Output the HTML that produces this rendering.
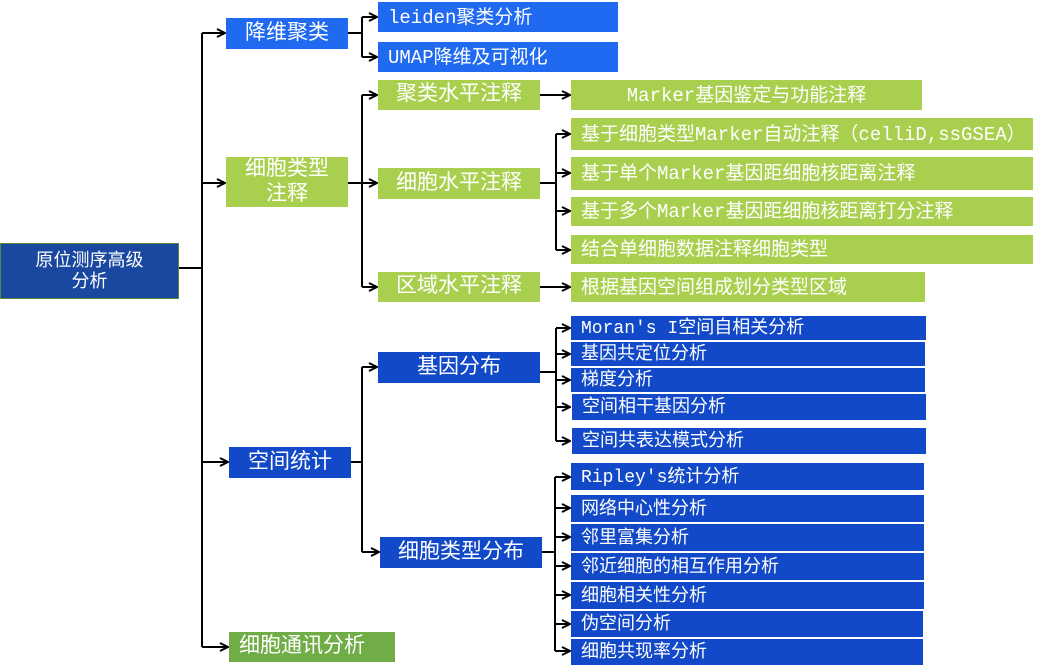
<!DOCTYPE html>
<html><head><meta charset="utf-8"><style>
body{margin:0;width:1039px;height:666px;background:#fff;position:relative;overflow:hidden;font-family:"Liberation Mono","Noto Sans CJK SC",monospace;}
.b{position:absolute;color:#fff;font-size:18px;box-sizing:border-box;display:flex;align-items:center;white-space:nowrap;line-height:1.15;padding-top:3px;font-family:"Liberation Mono","Noto Sans CJK SC",monospace;}
.c{justify-content:center;text-align:center}
.l{padding-left:10px}
.m{font-size:21px}
.r{font-size:19px}
.bb{background:#1f6af0}
.dk{background:#1249c8}
.g{background:#a8d04e}
.g2{background:#70ad47}
svg{position:absolute;left:0;top:0}
</style></head><body>
<svg width="1039" height="666">
<defs><marker id="a" markerWidth="10" markerHeight="10" refX="9" refY="5" orient="auto" markerUnits="userSpaceOnUse"><path d="M1,1 L9,5 L1,9" fill="none" stroke="#000" stroke-width="2"/></marker></defs>
<g stroke="#000" stroke-width="2" fill="none">
<path d="M179 268 H202 M202 33 V647"/>
<path d="M202 33 H225" marker-end="url(#a)"/>
<path d="M202 183 H225" marker-end="url(#a)"/>
<path d="M202 462 H228" marker-end="url(#a)"/>
<path d="M202 647 H228" marker-end="url(#a)"/>
<path d="M348 33 H362 M362 17 V57"/>
<path d="M362 17 H377" marker-end="url(#a)"/>
<path d="M362 57 H377" marker-end="url(#a)"/>
<path d="M348 183 H362 M362 95 V287"/>
<path d="M362 95 H377" marker-end="url(#a)"/>
<path d="M362 183 H377" marker-end="url(#a)"/>
<path d="M362 287 H377" marker-end="url(#a)"/>
<path d="M540 95 H570" marker-end="url(#a)"/>
<path d="M540 287 H570" marker-end="url(#a)"/>
<path d="M540 183 H556 M556 134 V250"/>
<path d="M556 134 H570" marker-end="url(#a)"/>
<path d="M556 173 H570" marker-end="url(#a)"/>
<path d="M556 211 H570" marker-end="url(#a)"/>
<path d="M556 250 H570" marker-end="url(#a)"/>
<path d="M351 462 H362 M362 367 V552"/>
<path d="M362 367 H377" marker-end="url(#a)"/>
<path d="M362 552 H379" marker-end="url(#a)"/>
<path d="M540 372 H556 M556 328 V441"/>
<path d="M556 328 H570" marker-end="url(#a)"/>
<path d="M556 354 H570" marker-end="url(#a)"/>
<path d="M556 380 H570" marker-end="url(#a)"/>
<path d="M556 407 H570" marker-end="url(#a)"/>
<path d="M556 441 H570" marker-end="url(#a)"/>
<path d="M542 552 H555 M555 477 V651"/>
<path d="M555 477 H570" marker-end="url(#a)"/>
<path d="M555 508 H570" marker-end="url(#a)"/>
<path d="M555 537 H570" marker-end="url(#a)"/>
<path d="M555 566 H570" marker-end="url(#a)"/>
<path d="M555 595 H570" marker-end="url(#a)"/>
<path d="M555 624 H570" marker-end="url(#a)"/>
<path d="M555 651 H570" marker-end="url(#a)"/>
</g></svg>

<div class="b c" style="left:0;top:243px;width:179px;height:56px;background:#1a47a0;border:1px solid #5a8a3a;font-size:18px">原位测序高级<br>分析</div>

<div class="b c bb m" style="left:226px;top:18px;width:122px;height:31px">降维聚类</div>
<div class="b l bb r" style="left:378px;top:2px;width:240px;height:30px">leiden聚类分析</div>
<div class="b l bb r" style="left:378px;top:42px;width:240px;height:30px">UMAP降维及可视化</div>

<div class="b c g m" style="left:226px;top:157px;width:122px;height:50px">细胞类型<br>注释</div>
<div class="b c g m" style="left:378px;top:80px;width:162px;height:30px">聚类水平注释</div>
<div class="b c g r" style="left:571px;top:80px;width:351px;height:30px">Marker基因鉴定与功能注释</div>
<div class="b c g m" style="left:378px;top:168px;width:162px;height:31px">细胞水平注释</div>
<div class="b l g r" style="left:571px;top:118px;width:462px;height:32px">基于细胞类型Marker自动注释（celliD,ssGSEA）</div>
<div class="b l g r" style="left:571px;top:157px;width:462px;height:33px">基于单个Marker基因距细胞核距离注释</div>
<div class="b l g r" style="left:571px;top:197px;width:462px;height:29px">基于多个Marker基因距细胞核距离打分注释</div>
<div class="b l g r" style="left:571px;top:235px;width:462px;height:29px">结合单细胞数据注释细胞类型</div>
<div class="b c g m" style="left:378px;top:272px;width:162px;height:30px">区域水平注释</div>
<div class="b l g r" style="left:571px;top:272px;width:354px;height:30px">根据基因空间组成划分类型区域</div>

<div class="b c dk m" style="left:229px;top:447px;width:122px;height:31px">空间统计</div>
<div class="b c dk m" style="left:378px;top:352px;width:162px;height:31px">基因分布</div>
<div class="b c dk m" style="left:380px;top:537px;width:162px;height:31px">细胞类型分布</div>
<div class="b l dk" style="left:571px;top:316px;width:355px;height:24px">Moran's I空间自相关分析</div>
<div class="b l dk" style="left:571px;top:342px;width:354px;height:24px">基因共定位分析</div>
<div class="b l dk" style="left:571px;top:368px;width:354px;height:24px">梯度分析</div>
<div class="b l dk" style="left:572px;top:394px;width:354px;height:26px">空间相干基因分析</div>
<div class="b l dk" style="left:572px;top:428px;width:354px;height:26px">空间共表达模式分析</div>
<div class="b l dk" style="left:571px;top:463px;width:353px;height:27px">Ripley's统计分析</div>
<div class="b l dk" style="left:571px;top:495px;width:353px;height:27px">网络中心性分析</div>
<div class="b l dk" style="left:571px;top:524px;width:353px;height:27px">邻里富集分析</div>
<div class="b l dk" style="left:571px;top:553px;width:353px;height:27px">邻近细胞的相互作用分析</div>
<div class="b l dk" style="left:571px;top:582px;width:353px;height:27px">细胞相关性分析</div>
<div class="b l dk" style="left:571px;top:611px;width:352px;height:26px">伪空间分析</div>
<div class="b l dk" style="left:571px;top:639px;width:352px;height:26px">细胞共现率分析</div>

<div class="b l g2 m" style="left:229px;top:632px;width:166px;height:30px">细胞通讯分析</div>
</body></html>
